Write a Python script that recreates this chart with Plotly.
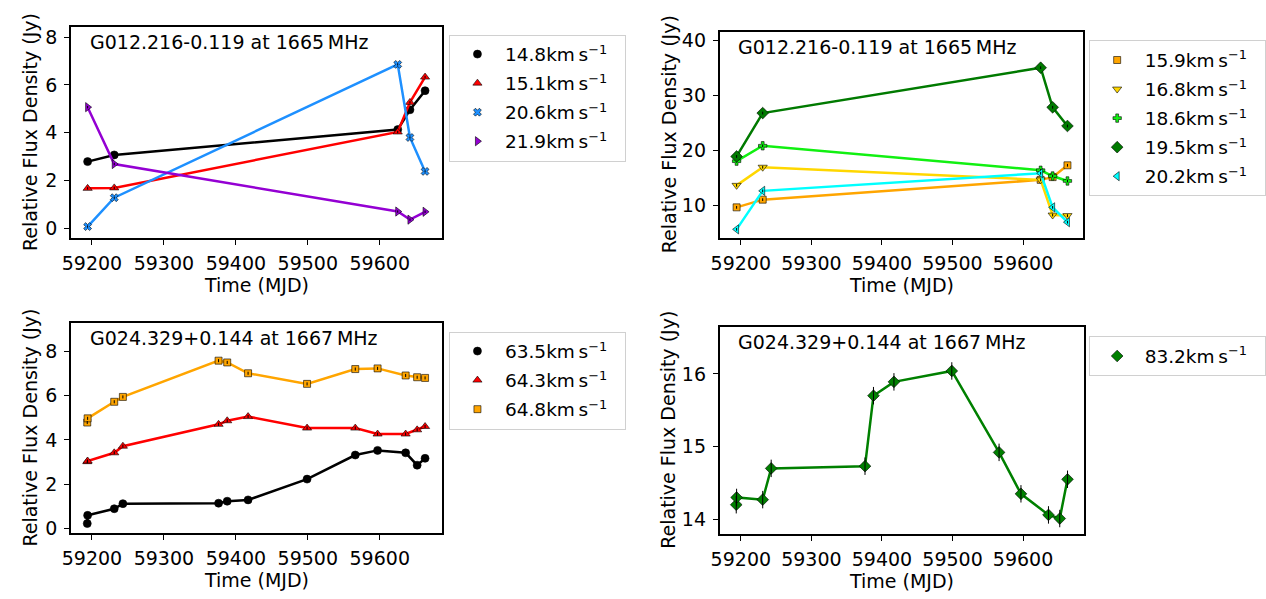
import plotly.graph_objects as go

W, H = 1266, 599
FONT = "DejaVu Sans"

# ---------------- data ----------------
mjd_g012 = [59194, 59231, 59625, 59642, 59663]
g012_1665_labels = ["14.8", "15.1", "20.6", "21.9"]
g012_148 = [2.79, 3.07, 4.13, 4.96, 5.76]
g012_151 = [1.67, 1.69, 4.03, 5.27, 6.33]
g012_206 = [0.07, 1.28, 6.86, 3.80, 2.38]
g012_219 = [5.07, 2.69, 0.70, 0.36, 0.69]

g012_b_labels = ["15.9", "16.8", "18.6", "19.5", "20.2"]
g012_159 = [9.7, 11.1, 14.7, 15.2, 17.35]
g012_168 = [13.7, 17.0, 14.7, 8.3, 8.2]
g012_186 = [18.1, 20.9, 16.45, 15.4, 14.5]
g012_195 = [18.96, 26.85, 35.1, 27.9, 24.5]
g012_202 = [5.7, 12.7, 15.9, 9.7, 7.0]

mjd_g024 = [59193.5, 59194, 59231, 59243, 59376, 59388, 59417, 59499,
            59566, 59597, 59636, 59652, 59663]
g024_labels = ["63.5", "64.3", "64.8"]
g024_635 = [0.22, 0.59, 0.89, 1.12, 1.14, 1.23, 1.29, 2.23, 3.32, 3.53, 3.42, 2.86, 3.17]
g024_643 = [3.02, 3.05, 3.42, 3.72, 4.71, 4.87, 5.06, 4.54, 4.54, 4.27, 4.27, 4.46, 4.61]
g024_648 = [4.79, 4.98, 5.73, 5.95, 7.59, 7.51, 7.02, 6.54, 7.21, 7.24, 6.92, 6.84, 6.81]
g024_832_label = "83.2"
g024_832 = [14.20, 14.30, 14.27, 14.70, 14.73, 15.70, 15.89, 16.04, 14.92, 14.35,
            14.06, 14.01, 14.55]

err_p1, err_p2, err_p3, err_p4 = 0.05, 0.25, 0.07, 0.12

xticks = [59200, 59300, 59400, 59500, 59600]
xticklabels = ["59200", "59300", "59400", "59500", "59600"]
titles = ["G012.216-0.119 at 1665\u2009MHz", "G012.216-0.119 at 1665\u2009MHz",
          "G024.329+0.144 at 1667\u2009MHz", "G024.329+0.144 at 1667\u2009MHz"]


def px(x):
    return x / W


def py(y):
    return 1 - y / H


def unit(v):
    return f"{v}km\u2009s<sup>\u22121</sup>\u00a0\u00a0"


fig = go.Figure()

panels = [
    ("x", "y", "legend", (63, 440), (25, 239), (59170.9, 59686.6), (-0.40, 8.44), 2),
    ("x2", "y2", "legend2", (722, 1091), (30, 239), (59169.9, 59684.7), (4.16, 41.67), 10),
    ("x3", "y3", "legend3", (63, 440), (325, 538), (59170.9, 59686.6), (-0.20, 9.31), 2),
    ("x4", "y4", "legend4", (722, 1092), (329, 539), (59169.9, 59686.0), (13.80, 16.65), 1),
]

series = [
    (0, mjd_g012, g012_148, g012_1665_labels[0], "black", "circle", 8, err_p1),
    (0, mjd_g012, g012_151, g012_1665_labels[1], "red", "triangle-up", 8, err_p1),
    (0, mjd_g012, g012_206, g012_1665_labels[2], "#1E90FF", "x", 7, err_p1),
    (0, mjd_g012, g012_219, g012_1665_labels[3], "#9400D3", "triangle-right", 8, err_p1),
    (1, mjd_g012, g012_159, g012_b_labels[0], "#FFA500", "square", 7, err_p2),
    (1, mjd_g012, g012_168, g012_b_labels[1], "#FFD700", "triangle-down", 8, err_p2),
    (1, mjd_g012, g012_186, g012_b_labels[2], "#11F011", "cross", 7, err_p2),
    (1, mjd_g012, g012_195, g012_b_labels[3], "#007A00", "diamond", 9, err_p2),
    (1, mjd_g012, g012_202, g012_b_labels[4], "#00FFFF", "triangle-left", 8, err_p2),
    (2, mjd_g024, g024_635, g024_labels[0], "black", "circle", 8, err_p3),
    (2, mjd_g024, g024_643, g024_labels[1], "red", "triangle-up", 8, err_p3),
    (2, mjd_g024, g024_648, g024_labels[2], "#FFA500", "square", 7, err_p3),
    (3, mjd_g024, g024_832, g024_832_label, "#008000", "diamond", 9, err_p4),
]

for i, (p, xs, ys, lab, col, sym, size, err) in enumerate(series):
    xa, ya, leg = panels[p][0], panels[p][1], panels[p][2]
    fig.add_trace(go.Scatter(x=xs, y=ys, mode="lines", xaxis=xa, yaxis=ya,
                             line=dict(color=col, width=2.5), showlegend=False,
                             hoverinfo="skip"))
    fig.add_trace(go.Scatter(x=xs, y=ys, mode="markers", xaxis=xa, yaxis=ya,
                             name=unit(lab), legend=leg, legendgroup=f"g{i}",
                             marker=dict(color=col, symbol=sym, size=size,
                                         line=dict(color="black", width=0.6))))
    fig.add_trace(go.Scatter(x=xs, y=ys, mode="markers", xaxis=xa, yaxis=ya,
                             showlegend=False, hoverinfo="skip",
                             marker=dict(size=1, opacity=0),
                             error_y=dict(type="constant", value=err, color="black",
                                          thickness=1, width=0)))

layout = dict(
    width=W, height=H, margin=dict(l=0, r=0, t=0, b=0),
    paper_bgcolor="white", plot_bgcolor="white",
    font=dict(family=FONT, size=19, color="black"),
    showlegend=True,
)

axis_common = dict(showline=True, mirror=True, linecolor="black", linewidth=1.5,
                   ticks="outside", ticklen=5, tickwidth=1.3, tickcolor="black",
                   showgrid=False, zeroline=False, ticklabelstandoff=3,
                   tickfont=dict(family=FONT, size=19, color="black"))

annotations = []
legend_pos = [(447, 33), (1097, 39), (447, 334), (1097, 339)]
ylabel_x = [8, 657, 8, 657]
for k, (xa, ya, leg, xd, yd, xr, yr, dt) in enumerate(panels):
    xkey = "xaxis" if xa == "x" else "xaxis" + xa[1:]
    ykey = "yaxis" if ya == "y" else "yaxis" + ya[1:]
    layout[xkey] = dict(axis_common, domain=[px(xd[0]), px(xd[1])], range=list(xr),
                        tickvals=xticks, ticktext=xticklabels, anchor=ya)
    layout[ykey] = dict(axis_common, domain=[py(yd[1]), py(yd[0])], range=list(yr),
                        dtick=dt, anchor=xa)
    lx, ly = legend_pos[k]
    layout[leg] = dict(x=px(lx), y=py(ly), xanchor="left", yanchor="top",
                       xref="paper", yref="paper",
                       bgcolor="white", bordercolor="#d0d0d0", borderwidth=1,
                       font=dict(family=FONT, size=18.5, color="black"),
                       tracegroupgap=2, itemwidth=45)
    annotations.append(dict(text=titles[k], x=px(xd[0] + 17), y=py(yd[0] + 16),
                            xref="paper", yref="paper", xanchor="left",
                            yanchor="middle", showarrow=False,
                            font=dict(family=FONT, size=19, color="black")))
    annotations.append(dict(text="Time (MJD)", x=px((xd[0] + xd[1]) / 2),
                            y=py(yd[1] + 48), xref="paper", yref="paper",
                            xanchor="center", yanchor="middle", showarrow=False,
                            font=dict(family=FONT, size=19, color="black")))
    annotations.append(dict(text="Relative Flux Density (Jy)", textangle=-90,
                            x=px(ylabel_x[k]),
                            y=py((yd[0] + yd[1]) / 2), xref="paper", yref="paper",
                            xanchor="left", yanchor="middle", showarrow=False,
                            font=dict(family=FONT, size=19, color="black")))

layout["annotations"] = annotations
fig.update_layout(**layout)
fig.write_html("out.html")
